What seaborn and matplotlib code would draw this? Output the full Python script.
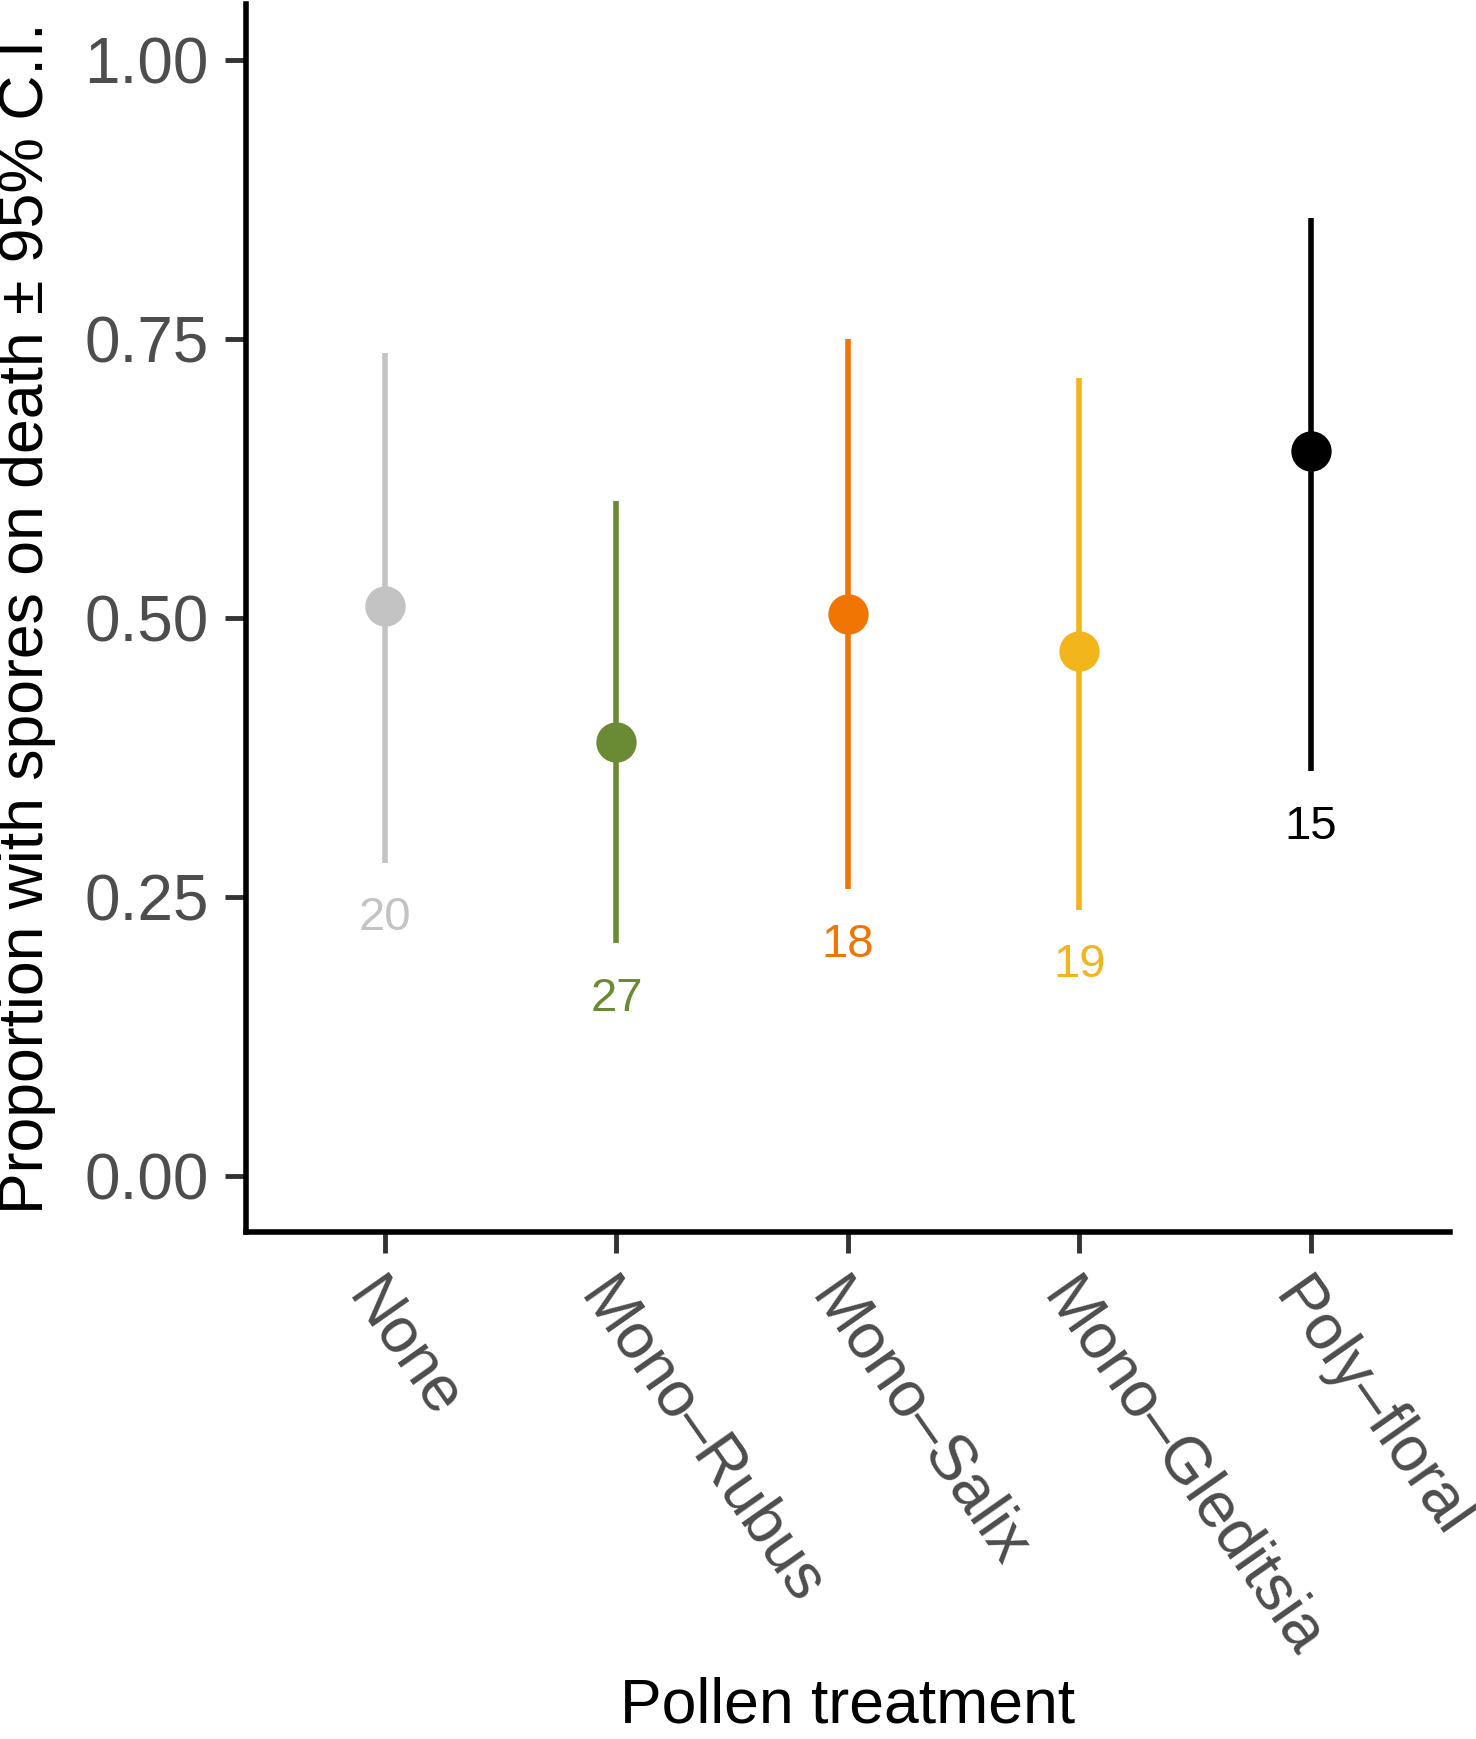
import numpy as np
import pandas as pd
import matplotlib
matplotlib.use("Agg")
import matplotlib.pyplot as plt
import seaborn as sns

# values
treatments = ["None", "Mono\u2013Rubus", "Mono\u2013Salix", "Mono\u2013Gleditsia", "Poly\u2013floral"]
proportion = [0.511, 0.389, 0.504, 0.471, 0.650]
ci_low = [0.281, 0.209, 0.257, 0.239, 0.363]
ci_high = [0.738, 0.605, 0.750, 0.715, 0.859]
n_bees = [20, 27, 18, 19, 15]
colours = ["#C3C3C3", "#6A8A33", "#F07502", "#F2B51C", "#000000"]

df = pd.DataFrame({"treatment": treatments, "prop": proportion,
                   "lo": ci_low, "hi": ci_high, "n": n_bees})

sns.set_style("ticks")
plt.rcParams["font.family"] = ["Liberation Sans", "DejaVu Sans"]

fig = plt.figure(figsize=(14.76, 17.39), dpi=100)
ax = fig.add_axes([0.1667, 0.2915, 0.8155, 0.706])

pos = np.arange(len(df))
ax.vlines(pos, df["lo"], df["hi"], colors=colours, linewidth=4, zorder=2)

sns.pointplot(data=df, x="treatment", y="prop", hue="treatment",
              palette=colours, order=treatments, hue_order=treatments,
              errorbar=None, linestyle="none", markers="o",
              markersize=27, legend=False, ax=ax, zorder=3)

# sample sizes under each interval
for i, row in df.iterrows():
    ax.text(pos[i], row["lo"] - 0.05, str(row["n"]), color=colours[i],
            ha="center", va="center", fontsize=34)

ax.set_xlim(-0.6, len(df) - 0.4)
ax.set_ylim(-0.05, 1.05)
ax.set_yticks([0, 0.25, 0.5, 0.75, 1.0])
ax.set_yticklabels(["0.00", "0.25", "0.50", "0.75", "1.00"])

ax.set_xticks(pos)
ax.set_xticklabels(treatments, rotation=-55, ha="left", va="top",
                   rotation_mode="anchor")

for s in ["top", "right"]:
    ax.spines[s].set_visible(False)
for s in ["left", "bottom"]:
    ax.spines[s].set_linewidth(4)
    ax.spines[s].set_color("black")

ax.tick_params(axis="both", width=3.5, length=15, color="#333333",
               labelsize=46, labelcolor="#4D4D4D", pad=12)

ax.set_xlabel("Pollen treatment", fontsize=45, color="black")
ax.set_ylabel("Proportion with spores on death \u00b1 95% C.I.", fontsize=45,
              color="black")
ax.xaxis.set_label_coords(0.5, -0.362)
ax.yaxis.set_label_coords(-0.158, 0.5)

fig.savefig("out.png", dpi=100)
